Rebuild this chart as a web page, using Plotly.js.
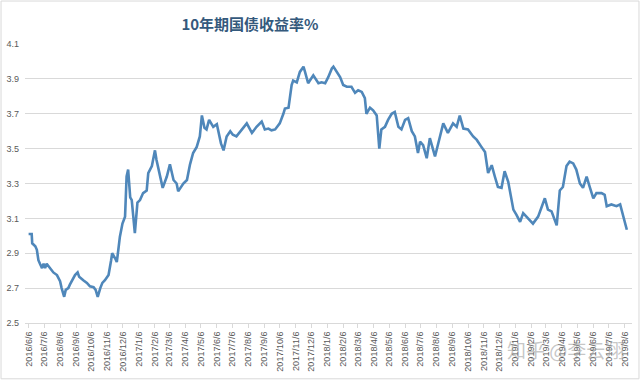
<!DOCTYPE html>
<html>
<head>
<meta charset="utf-8">
<script src="https://cdn.plot.ly/plotly-3.0.1.min.js"></script>
<style>
html,body{margin:0;padding:0;background:#fff;}
#chart{width:641px;height:383px;}
</style>
</head>
<body>
<div id="chart"></div>
<script>
// 10-year treasury yield (%)
const dates = [
"2016-06-06","2016-06-12","2016-06-13","2016-06-19","2016-06-22","2016-06-25","2016-06-28","2016-07-02","2016-07-05","2016-07-08",
"2016-07-11","2016-07-18","2016-07-24","2016-07-31","2016-08-06","2016-08-09","2016-08-14","2016-08-17","2016-08-22","2016-08-25",
"2016-08-29","2016-09-04","2016-09-09","2016-09-12","2016-09-20","2016-09-27","2016-10-03","2016-10-10","2016-10-14","2016-10-18",
"2016-10-23","2016-10-27","2016-11-01","2016-11-08","2016-11-13","2016-11-15","2016-11-21","2016-11-24","2016-11-27","2016-11-30",
"2016-12-05","2016-12-10","2016-12-13","2016-12-16","2016-12-20","2016-12-23","2016-12-29","2017-01-03","2017-01-08","2017-01-14",
"2017-01-21","2017-01-24","2017-01-31","2017-02-06","2017-02-09","2017-02-16","2017-02-21","2017-03-01","2017-03-07","2017-03-14",
"2017-03-20","2017-03-23","2017-04-02","2017-04-09","2017-04-15","2017-04-21","2017-04-28","2017-05-04","2017-05-08","2017-05-13",
"2017-05-17","2017-05-22","2017-05-30","2017-06-06","2017-06-11","2017-06-14","2017-06-19","2017-06-25","2017-07-02","2017-07-07",
"2017-07-14","2017-07-24","2017-08-03","2017-08-13","2017-08-22","2017-09-01","2017-09-07","2017-09-14","2017-09-20","2017-09-27",
"2017-10-06","2017-10-13","2017-10-16","2017-10-23","2017-10-26","2017-10-29","2017-11-01","2017-11-08","2017-11-14","2017-11-21",
"2017-11-24","2017-11-30","2017-12-10","2017-12-20","2017-12-26","2018-01-02","2018-01-08","2018-01-15","2018-01-18","2018-01-24",
"2018-01-31","2018-02-06","2018-02-13","2018-02-22","2018-03-01","2018-03-07","2018-03-14","2018-03-20","2018-03-23","2018-03-30",
"2018-04-05","2018-04-12","2018-04-17","2018-04-21","2018-04-28","2018-05-04","2018-05-11","2018-05-17","2018-05-24","2018-05-30",
"2018-06-06","2018-06-12","2018-06-19","2018-06-25","2018-07-01","2018-07-05","2018-07-11","2018-07-18","2018-07-24","2018-08-03",
"2018-08-12","2018-08-19","2018-08-28","2018-09-07","2018-09-14","2018-09-20","2018-09-27","2018-10-06","2018-10-16","2018-10-23",
"2018-11-01","2018-11-08","2018-11-14","2018-11-21","2018-11-27","2018-12-03","2018-12-10","2018-12-16","2018-12-23","2018-12-27",
"2019-01-02","2019-01-08","2019-01-15","2019-01-21","2019-01-28","2019-02-09","2019-02-19","2019-02-26","2019-03-04","2019-03-10",
"2019-03-17","2019-03-27","2019-04-02","2019-04-08","2019-04-15","2019-04-21","2019-04-28","2019-05-04","2019-05-11","2019-05-17",
"2019-05-24","2019-05-30","2019-06-06","2019-06-12","2019-06-22","2019-06-28","2019-07-02","2019-07-11","2019-07-21","2019-07-28",
"2019-08-03","2019-08-10"
];
const yields = [
3.01,3.01,2.957,2.94,2.92,2.86,2.84,2.815,2.84,2.815,
2.84,2.815,2.79,2.775,2.74,2.70,2.65,2.69,2.70,2.72,
2.74,2.775,2.79,2.765,2.745,2.73,2.71,2.705,2.69,2.65,
2.70,2.73,2.745,2.775,2.86,2.90,2.87,2.85,2.92,2.995,
3.07,3.11,3.34,3.38,3.22,3.205,3.015,3.19,3.205,3.245,
3.26,3.36,3.40,3.49,3.435,3.34,3.275,3.34,3.41,3.32,
3.30,3.255,3.30,3.32,3.41,3.475,3.51,3.57,3.69,3.62,
3.61,3.665,3.625,3.64,3.57,3.53,3.49,3.57,3.60,3.58,
3.57,3.61,3.645,3.59,3.625,3.655,3.61,3.615,3.605,3.61,
3.645,3.70,3.73,3.735,3.79,3.865,3.89,3.88,3.94,3.97,
3.94,3.875,3.92,3.875,3.88,3.875,3.91,3.96,3.97,3.94,
3.91,3.865,3.855,3.855,3.82,3.835,3.825,3.79,3.70,3.735,
3.72,3.69,3.50,3.61,3.625,3.665,3.70,3.71,3.625,3.61,
3.665,3.675,3.60,3.57,3.475,3.54,3.52,3.445,3.56,3.455,
3.57,3.645,3.59,3.645,3.625,3.69,3.615,3.61,3.57,3.55,
3.51,3.48,3.36,3.405,3.34,3.28,3.275,3.37,3.31,3.245,
3.15,3.12,3.08,3.13,3.11,3.07,3.11,3.17,3.215,3.15,
3.14,3.06,3.26,3.28,3.40,3.425,3.415,3.38,3.30,3.275,
3.34,3.28,3.215,3.245,3.245,3.235,3.17,3.18,3.17,3.18,
3.11,3.035
];
const yTicks = [2.5,2.7,2.9,3.1,3.3,3.5,3.7,3.9,4.1];
const chartTitle = "10年期国债收益率%";
const watermark = "知乎 @李云翔";

const trace = {
  x: dates, y: yields, type: "scatter", mode: "lines",
  line: {color: "#4f87ba", width: 2.6},
  hoverinfo: "skip"
};

const layout = {
  width: 641, height: 383,
  margin: {l: 25, r: 9, t: 44, b: 60},
  paper_bgcolor: "#ffffff", plot_bgcolor: "#ffffff",
  showlegend: false,
  title: {
    text: "<b>" + chartTitle + "</b>",
    font: {family: "Noto Sans CJK SC, sans-serif", size: 15, color: "#34597c"},
    x: 0.39, xref: "container", xanchor: "center",
    y: 0.935, yref: "container", yanchor: "middle"
  },
  xaxis: {
    type: "date",
    range: ["2016-05-30", "2019-08-20"],
    tick0: "2016-06-06", dtick: "M1",
    tickformat: "%Y/%-m/%-d",
    tickangle: -90,
    tickfont: {family: "Liberation Sans, Arial, sans-serif", size: 9, color: "#595959"},
    showgrid: false, zeroline: false,
    showline: true, linecolor: "#d9d9d9", linewidth: 1,
    ticks: "outside", ticklen: 4, tickcolor: "#d9d9d9",
    fixedrange: true
  },
  yaxis: {
    range: [2.5, 4.1],
    tickvals: yTicks,
    ticktext: yTicks.map(v => v.toFixed(1)),
    tickfont: {family: "Liberation Sans, Arial, sans-serif", size: 9, color: "#595959"},
    showgrid: true, gridcolor: "#d9d9d9", gridwidth: 1,
    zeroline: false, showline: false, ticks: "",
    ticklabelstandoff: 5,
    fixedrange: true
  },
  shapes: [{
    type: "rect", xref: "paper", yref: "paper", layer: "above",
    x0: -0.0395, x1: 1.0115, y0: -0.2, y1: 1.154,
    line: {color: "#d9d9d9", width: 1}, fillcolor: "rgba(0,0,0,0)"
  }],
  annotations: [{
    text: watermark, xref: "paper", yref: "paper",
    x: 0.89, y: -0.095, xanchor: "center", yanchor: "middle",
    showarrow: false,
    font: {family: "Noto Sans CJK SC, sans-serif", size: 19, color: "rgba(150,150,150,0.55)"}
  }]
};

Plotly.newPlot("chart", [trace], layout, {displayModeBar: false, staticPlot: true});
</script>
</body>
</html>
